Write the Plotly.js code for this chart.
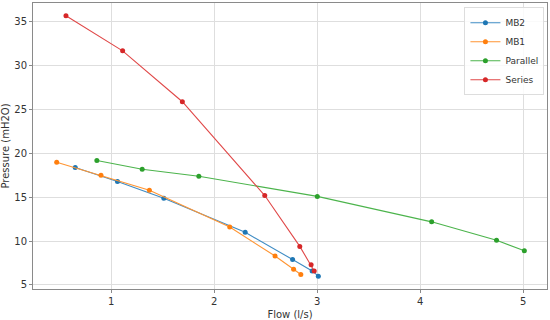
<!DOCTYPE html>
<html>
<head>
<meta charset="utf-8">
<script src="https://cdn.plot.ly/plotly-3.0.1.min.js"></script>
<style>
  html, body { margin: 0; padding: 0; background: #fff; }
  #chart { width: 550px; height: 320px; }
</style>
</head>
<body>
<div id="chart"></div>
<script>
// Pump curves: flow (l/s) vs pressure (mH2O)
const mb2Flow = [0.65, 1.06, 1.51, 2.30, 2.76, 2.95, 3.01];
const mb2Pressure = [18.4, 16.8, 14.9, 11.0, 7.9, 6.6, 6.0];

const mb1Flow = [0.47, 0.90, 1.37, 2.15, 2.59, 2.77, 2.84];
const mb1Pressure = [19.0, 17.5, 15.8, 11.6, 8.3, 6.8, 6.2];

const parallelFlow = [0.86, 1.30, 1.85, 3.00, 4.11, 4.74, 5.01];
const parallelPressure = [19.2, 18.2, 17.4, 15.1, 12.2, 10.1, 8.9];

const seriesFlow = [0.56, 1.11, 1.69, 2.49, 2.83, 2.94, 2.97];
const seriesPressure = [35.7, 31.7, 25.9, 15.2, 9.4, 7.3, 6.6];

const seriesNames = ['MB2', 'MB1', 'Parallel', 'Series'];
const colors = ['#1f77b4', '#ff7f0e', '#2ca02c', '#d62728'];
const lineColors = ['#3f8cc4', '#ff9533', '#4cb44c', '#e04848'];

function makeTrace(x, y, i) {
    return {
        x: x,
        y: y,
        name: seriesNames[i],
        type: 'scatter',
        mode: 'lines+markers',
        line: { color: lineColors[i], width: 1.1 },
        marker: { color: colors[i], size: 5 }
    };
}

const traces = [
    makeTrace(mb2Flow, mb2Pressure, 0),
    makeTrace(mb1Flow, mb1Pressure, 1),
    makeTrace(parallelFlow, parallelPressure, 2),
    makeTrace(seriesFlow, seriesPressure, 3)
];

const axisStyle = {
    showline: true,
    mirror: true,
    linecolor: '#8a8a8a',
    linewidth: 1,
    showgrid: true,
    gridcolor: '#dedede',
    gridwidth: 1,
    zeroline: false,
    ticks: 'outside',
    ticklen: 3,
    tickcolor: '#8a8a8a',
    tickfont: { family: 'DejaVu Sans', size: 10, color: '#333' }
};

const layout = {
    width: 550,
    height: 320,
    margin: { t: 3, r: 3, b: 31, l: 33 },
    paper_bgcolor: '#fff',
    plot_bgcolor: '#fff',
    font: { family: 'DejaVu Sans', size: 10, color: '#333' },
    showlegend: true,
    legend: {
        x: 0.995, y: 0.985,
        xanchor: 'right', yanchor: 'top',
        bgcolor: 'rgba(255,255,255,0.85)',
        bordercolor: '#dddddd',
        borderwidth: 1,
        font: { family: 'DejaVu Sans', size: 9, color: '#333' },
        itemwidth: 30,
        tracegroupgap: 0
    },
    xaxis: Object.assign({}, axisStyle, {
        range: [0.24, 5.23],
        tickvals: [1, 2, 3, 4, 5],
        title: { text: 'Flow (l/s)', font: { size: 10 }, standoff: 4 }
    }),
    yaxis: Object.assign({}, axisStyle, {
        range: [4.54, 37.16],
        tickvals: [5, 10, 15, 20, 25, 30, 35],
        title: { text: 'Pressure (mH2O)', font: { size: 10 }, standoff: 4 }
    })
};

Plotly.newPlot('chart', traces, layout, { displayModeBar: false, staticPlot: true });
</script>
</body>
</html>
